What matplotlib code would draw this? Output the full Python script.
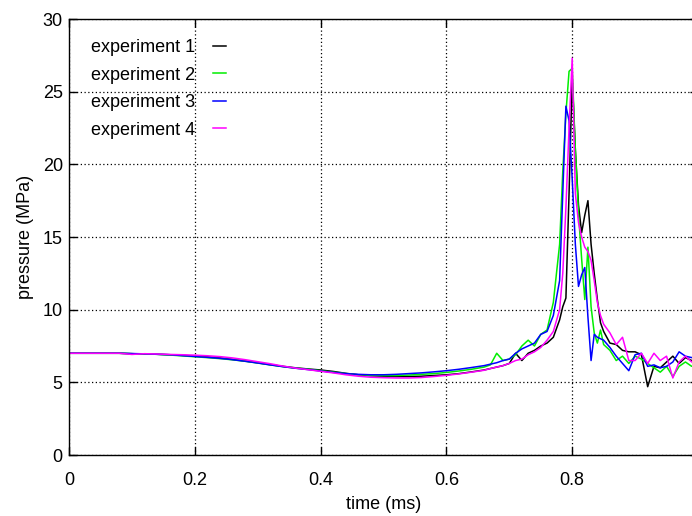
import matplotlib
matplotlib.use("Agg")
import matplotlib.pyplot as plt

plt.rcParams['font.family'] = ['Liberation Sans', 'DejaVu Sans']

time_ms = [0.00, 0.02, 0.04, 0.06, 0.08, 0.10, 0.12, 0.14, 0.16, 0.18,
           0.20, 0.22, 0.24, 0.26, 0.28, 0.30, 0.32, 0.34, 0.36, 0.38,
           0.40, 0.42, 0.44, 0.46, 0.48, 0.50, 0.52, 0.54, 0.56, 0.58,
           0.60, 0.62, 0.64, 0.66,
           0.67, 0.68, 0.69, 0.70, 0.71, 0.72, 0.73, 0.74, 0.75, 0.76, 0.77, 0.78,
           0.785, 0.79, 0.795, 0.80, 0.805, 0.81, 0.815, 0.82, 0.825, 0.83, 0.835, 0.84, 0.845, 0.85,
           0.86, 0.87, 0.88, 0.89, 0.90, 0.91, 0.92, 0.93, 0.94, 0.95, 0.96, 0.97, 0.98, 0.99, 1.00]

exp1 = [7.0, 7.0, 7.0, 7.0, 7.0, 6.97, 6.95, 6.93, 6.9, 6.86,
        6.8, 6.75, 6.68, 6.58, 6.47, 6.35, 6.22, 6.1, 6.0, 5.92,
        5.85, 5.75, 5.62, 5.52, 5.45, 5.42, 5.4, 5.4, 5.42, 5.47,
        5.52, 5.6, 5.72, 5.85,
        5.95, 6.05, 6.15, 6.3, 7.0, 6.5, 7.0, 7.2, 7.5, 7.7, 8.1, 9.3,
        10.2, 10.8, 18.0, 26.0, 21.0, 17.2, 15.3, 16.5, 17.5, 14.5, 12.5, 10.7, 9.1, 8.5,
        7.7, 7.6, 7.2, 7.1, 7.1, 6.9, 4.7, 6.1, 6.0, 6.4, 6.8, 6.3, 6.7, 6.5, 6.6]

exp2 = [7.0, 7.0, 7.0, 7.0, 7.0, 6.97, 6.95, 6.93, 6.88, 6.82,
        6.76, 6.7, 6.63, 6.55, 6.45, 6.33, 6.2, 6.08, 5.98, 5.9,
        5.8, 5.7, 5.6, 5.52, 5.48, 5.46, 5.47, 5.5, 5.55, 5.6,
        5.68, 5.78, 5.9, 6.05,
        6.2, 7.0, 6.5, 6.6, 6.9, 7.5, 7.9, 7.5, 8.3, 8.6, 10.5, 14.5,
        19.5, 23.5, 26.4, 26.6, 21.0, 16.6, 13.5, 10.7, 14.3, 10.2, 8.4, 7.7, 8.6, 7.6,
        7.2, 6.5, 6.8, 6.3, 6.8, 6.6, 6.3, 6.0, 5.7, 6.1, 5.4, 6.1, 6.4, 6.1, 6.3]

exp3 = [7.0, 7.0, 7.0, 7.0, 7.0, 6.98, 6.96, 6.93, 6.9, 6.84,
        6.78, 6.72, 6.65, 6.56, 6.45, 6.33, 6.2, 6.08, 5.97, 5.88,
        5.78, 5.68, 5.6, 5.55, 5.52, 5.52, 5.55, 5.6, 5.65, 5.72,
        5.8, 5.9, 6.02, 6.15,
        6.25, 6.35, 6.5, 6.6, 7.0, 7.3, 7.5, 7.7, 8.3, 8.5, 9.6, 12.0,
        18.0, 24.0, 23.0, 19.0, 14.5, 11.6, 12.4, 12.9, 9.5, 6.5, 8.3, 8.1, 8.0, 7.9,
        7.4, 6.8, 6.3, 5.8, 6.9, 7.0, 6.1, 6.2, 6.0, 6.1, 6.4, 7.1, 6.8, 6.7, 6.9]

exp4 = [7.0, 7.0, 7.0, 7.0, 7.0, 6.92, 6.97, 6.95, 6.92, 6.9,
        6.87, 6.83, 6.77, 6.68, 6.56, 6.42, 6.28, 6.12, 5.98, 5.87,
        5.76, 5.65, 5.52, 5.42, 5.35, 5.32, 5.3, 5.3, 5.33, 5.4,
        5.48, 5.58, 5.7, 5.83,
        5.95, 6.05, 6.15, 6.3, 6.5, 6.6, 6.9, 7.1, 7.4, 7.9, 8.5, 10.0,
        12.5, 17.0, 22.5, 27.3, 18.0, 16.0, 15.0, 14.3, 14.0, 13.4, 12.0, 10.5, 9.6, 9.0,
        8.4, 7.6, 8.1, 6.5, 6.5, 7.0, 6.3, 7.0, 6.5, 6.8, 5.3, 6.4, 6.8, 6.4, 6.6]

labels = ["experiment 1", "experiment 2", "experiment 3", "experiment 4"]
colors = ["#000000", "#00ee00", "#0000ff", "#ff00ff"]
x_ticks = [0, 0.2, 0.4, 0.6, 0.8, 1.0]
x_ticklabels = ["0", "0.2", "0.4", "0.6", "0.8", "1"]
y_ticks = [0, 5, 10, 15, 20, 25, 30]

W, H = 692, 516
fig = plt.figure(figsize=(W / 100, H / 100), dpi=100)
left, right, top, bottom = 69, 698, 19, 455
ax = fig.add_axes([left / W, (H - bottom) / H, (right - left) / W, (bottom - top) / H])

for series, lab, col in zip([exp1, exp2, exp3, exp4], labels, colors):
    ax.plot(time_ms, series, color=col, lw=1.1, label=lab)

ax.set_xlim(0, 1)
ax.set_ylim(0, 30)
ax.set_xticks(x_ticks)
ax.set_xticklabels(x_ticklabels)
ax.set_yticks(y_ticks)
ax.tick_params(direction='in', length=6, width=1, top=True, right=True,
               labelsize=13)
ax.tick_params(axis='x', pad=12)
ax.tick_params(axis='y', pad=4.5)
ax.grid(True, color='black', linestyle=(0, (1, 2)), lw=0.9)
for s in ax.spines.values():
    s.set_linewidth(1.0)

ax.set_xlabel("time (ms)", fontsize=13, labelpad=5)
ax.set_ylabel("pressure (MPa)", fontsize=13, labelpad=6.5)

leg = ax.legend(loc='upper left', bbox_to_anchor=(0.023, 0.970), frameon=False,
                markerfirst=False, handlelength=0.75, handletextpad=1.0,
                labelspacing=0.58, fontsize=13, borderaxespad=0)

fig.savefig("out.png", dpi=100)
